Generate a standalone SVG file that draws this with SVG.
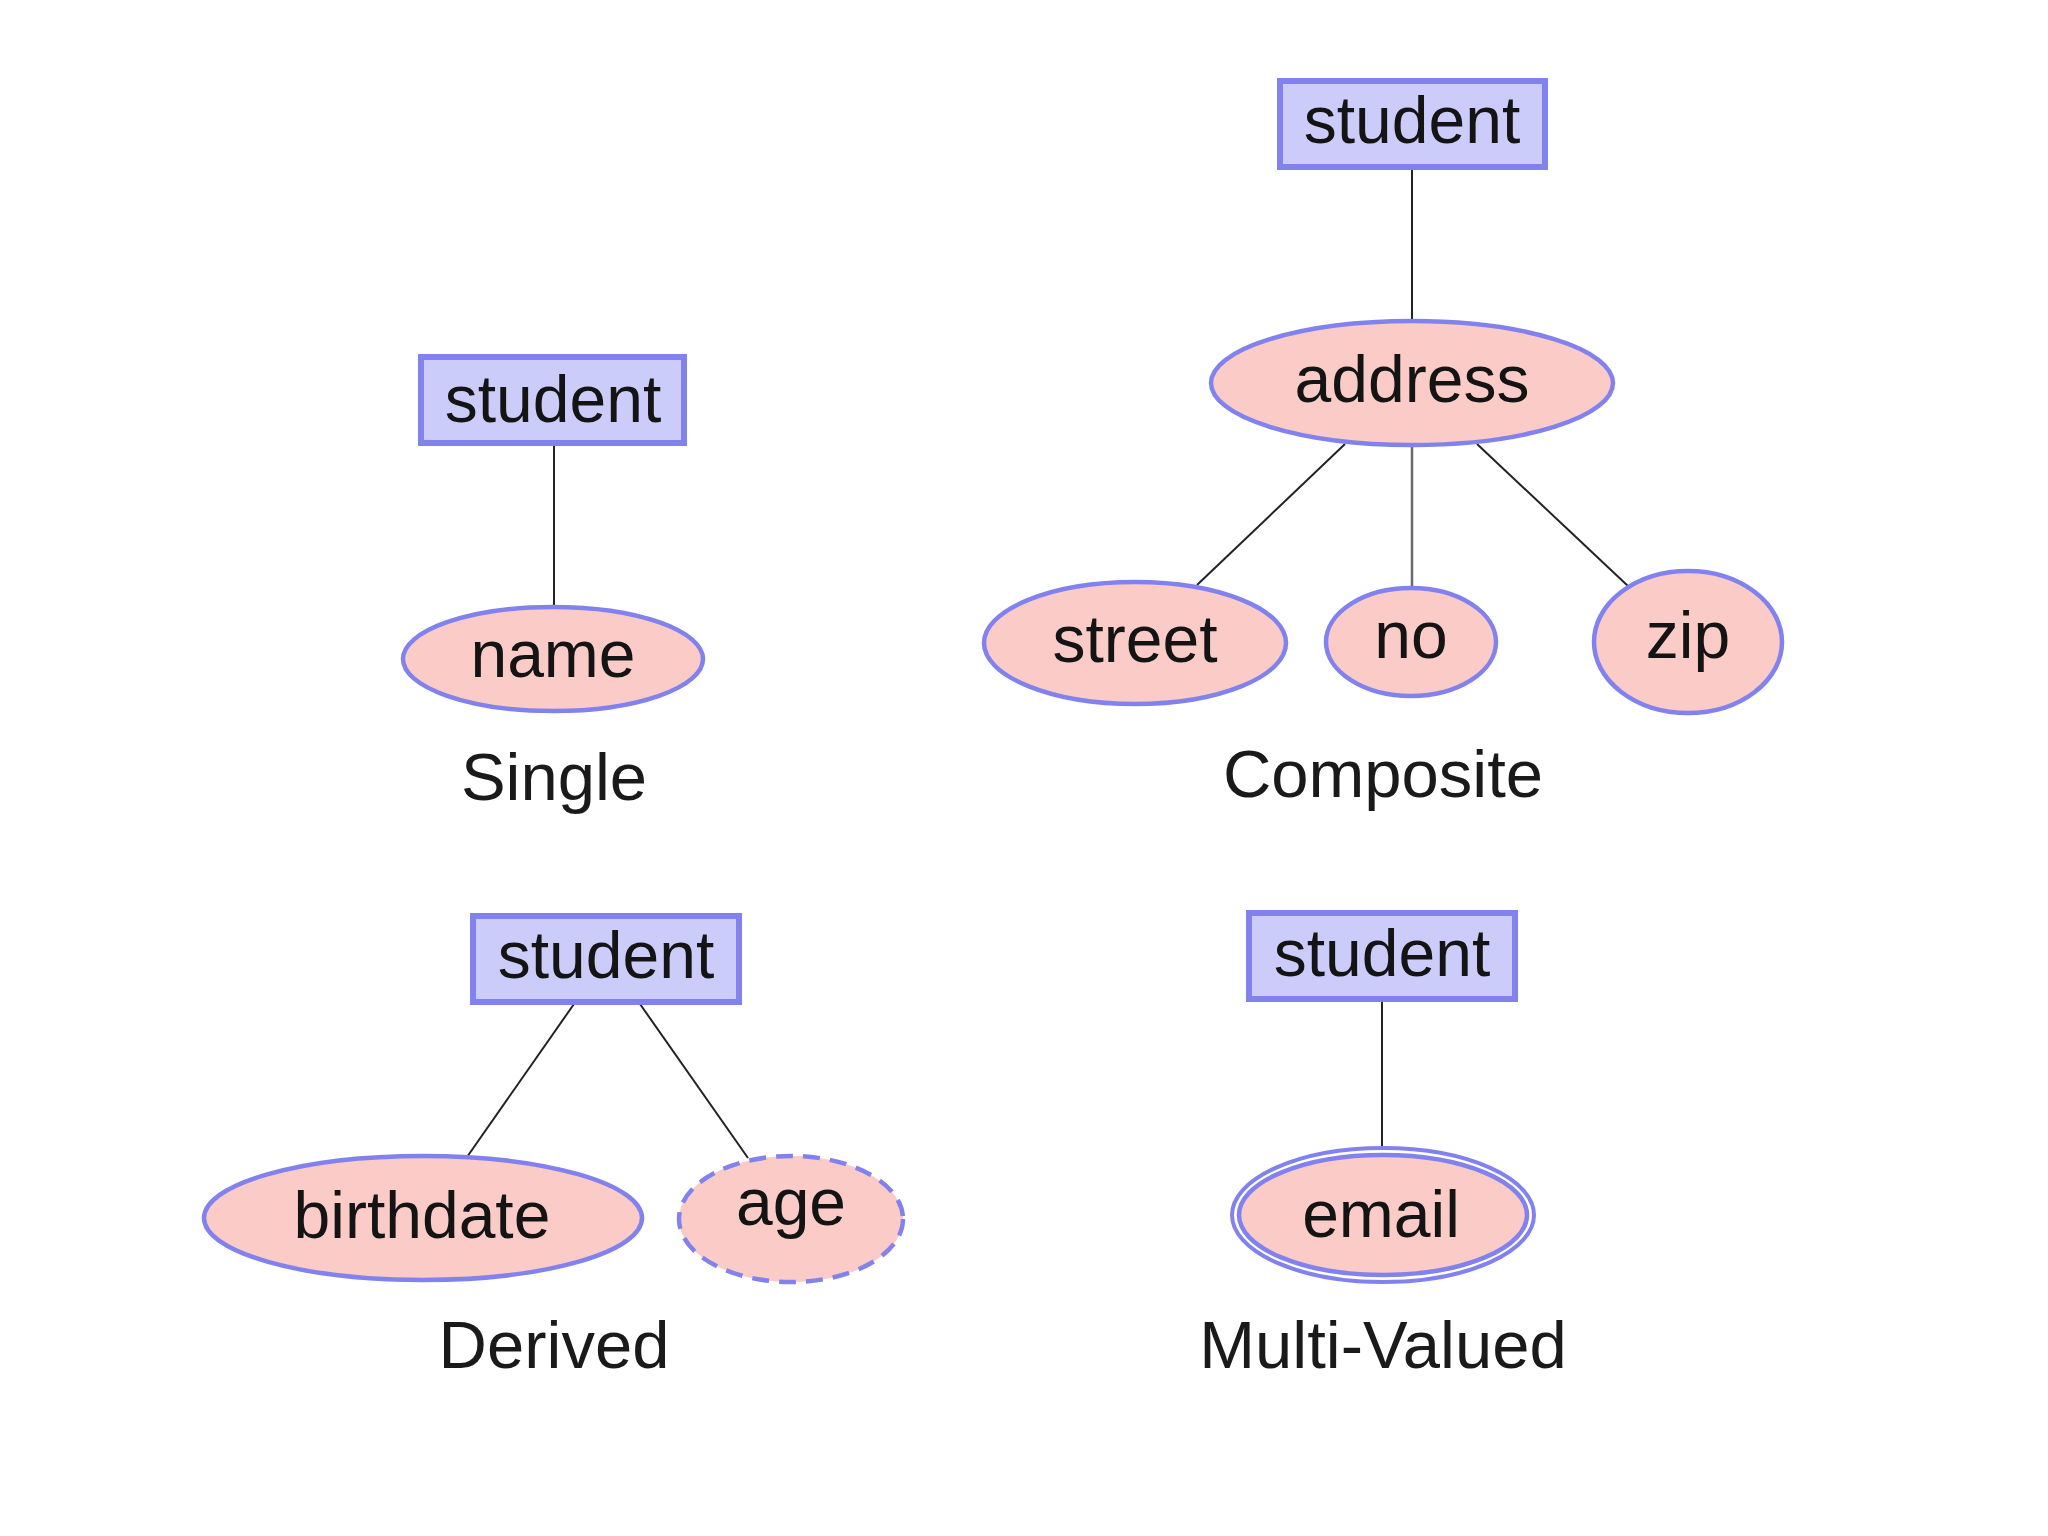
<svg xmlns="http://www.w3.org/2000/svg" width="2048" height="1536" viewBox="0 0 2048 1536">
<style>
.ent{fill:#ccccfb;stroke:#8282ee;stroke-width:6}
.att{fill:#fbcbc8;stroke:#8282ee;stroke-width:4.5}
.der{fill:#fbcbc8;stroke:#8282ee;stroke-width:4.5;stroke-dasharray:17 10}
.mv{fill:none;stroke:#8282ee;stroke-width:4}
.t{font-family:"Liberation Sans",Arial,Helvetica,sans-serif;font-size:66px;fill:#141414;text-anchor:middle}
.cap{font-family:"Liberation Sans",Arial,Helvetica,sans-serif;font-size:67px;fill:#1a1a1a;text-anchor:middle}
.ln{stroke:#222;stroke-width:2;fill:none}
.ln2{stroke:#6a6a6a;stroke-width:2.5;fill:none}
</style>
<rect width="2048" height="1536" fill="#ffffff"/>
<g id="connectors">
<line class="ln" x1="554" y1="446" x2="554" y2="605"/>
<line class="ln" x1="1412" y1="170" x2="1412" y2="320"/>
<line class="ln" x1="1345" y1="444" x2="1197" y2="585"/>
<line class="ln2" x1="1412" y1="446" x2="1412" y2="587"/>
<line class="ln" x1="1477" y1="444" x2="1628" y2="586"/>
<line class="ln" x1="574" y1="1004" x2="467" y2="1157"/>
<line class="ln" x1="640" y1="1004" x2="748" y2="1158"/>
<line class="ln" x1="1382" y1="1002" x2="1382" y2="1149"/>
</g>
<g id="single-student">
<rect class="ent" x="421" y="357" width="263" height="86"/>
<text class="t" x="553" y="422">student</text>
</g>
<g id="single-name">
<ellipse class="att" cx="553" cy="659" rx="150" ry="52"/>
<text class="t" x="553" y="677">name</text>
</g>
<text class="cap" x="554" y="800">Single</text>
<g id="comp-student">
<rect class="ent" x="1280" y="81" width="265" height="86"/>
<text class="t" x="1412" y="143">student</text>
</g>
<g id="comp-address">
<ellipse class="att" cx="1412" cy="383" rx="201" ry="62"/>
<text class="t" x="1412" y="402">address</text>
</g>
<g id="comp-street">
<ellipse class="att" cx="1135" cy="643" rx="151" ry="61"/>
<text class="t" x="1135" y="662">street</text>
</g>
<g id="comp-no">
<ellipse class="att" cx="1411" cy="642" rx="85" ry="54"/>
<text class="t" x="1411" y="658">no</text>
</g>
<g id="comp-zip">
<ellipse class="att" cx="1688" cy="642" rx="94" ry="71"/>
<text class="t" x="1688" y="658">zip</text>
</g>
<text class="cap" x="1383" y="797">Composite</text>
<g id="der-student">
<rect class="ent" x="473" y="916" width="266" height="86"/>
<text class="t" x="606" y="978">student</text>
</g>
<g id="der-birthdate">
<ellipse class="att" cx="423" cy="1218" rx="219" ry="62"/>
<text class="t" x="422" y="1238">birthdate</text>
</g>
<g id="der-age">
<ellipse class="der" cx="791" cy="1219" rx="112" ry="63"/>
<text class="t" x="791" y="1225">age</text>
</g>
<text class="cap" x="554" y="1368">Derived</text>
<g id="mv-student">
<rect class="ent" x="1249" y="913" width="266" height="86"/>
<text class="t" x="1382" y="976">student</text>
</g>
<g id="mv-email">
<ellipse class="att" cx="1383" cy="1215" rx="144" ry="60"/>
<ellipse class="mv" cx="1383" cy="1215" rx="151" ry="67"/>
<text class="t" x="1381" y="1237">email</text>
</g>
<text class="cap" x="1383" y="1368">Multi-Valued</text>
</svg>
